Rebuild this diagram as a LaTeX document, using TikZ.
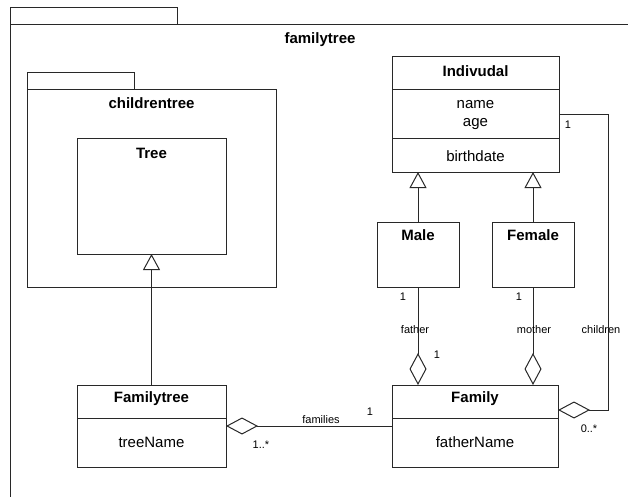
\documentclass[tikz,border=0pt]{standalone}
\usepackage{fontspec}
\setmainfont{Liberation Sans}
\usetikzlibrary{arrows.meta}
\definecolor{linec}{RGB}{40,40,40}
\tikzset{
  box/.style={draw=linec, line width=1pt, inner sep=0pt, outer sep=0pt},
  title/.style={font=\bfseries\fontsize{15}{18}\selectfont, inner sep=0pt},
  attr/.style={font=\fontsize{15}{18}\selectfont, inner sep=0pt},
  lbl/.style={font=\fontsize{11}{13}\selectfont, inner sep=0pt},
  wire/.style={draw=linec, line width=1pt},
  gen/.style={wire, -{Triangle[open,length=16pt,width=17pt]}},
  agg/.style={wire, -{Diamond[open,length=32pt,width=17pt]}},
}
\begin{document}
\begin{tikzpicture}[x=1pt, y=-1pt]
\useasboundingbox (0,0) rectangle (628,497);

% outer package familytree
\node[box, minimum width=167pt, minimum height=17pt] (ftab) at (93.5,16.5) {};
\coordinate (fcorner) at (10,25);
\draw[wire] (628,25) -- (fcorner) -- (10,497);
\node[title] (ftitle) at (320,40) {familytree};

% package childrentree
\node[box, minimum width=107pt, minimum height=17pt] (ctab) at (80.5,81.5) {};
\node[box, minimum width=249pt, minimum height=197pt] (ctree) at (151.5,188.5) {};
\node[title] (ctitle) at (151.5,103) {childrentree};

% class Tree
\node[box, minimum width=149pt, minimum height=115pt] (tree) at (151.5,196.5) {};
\node[title] (treet) at (151.5,153) {Tree};

% class Indivudal
\node[box, minimum width=167pt, minimum height=115pt] (indiv) at (475.5,114.5) {};
\draw[wire] (392,90) -- (559,90);
\draw[wire] (392,139) -- (559,139);
\node[title] (indivt) at (475.5,71) {Indivudal};
\node[attr] (indname) at (475.5,105) {name};
\node[attr] (indage) at (475.5,124) {age};
\node[attr] (indbirth) at (475.5,156) {birthdate};

% classes Male and Female
\node[box, minimum width=82pt, minimum height=65pt] (male) at (418,254.5) {};
\node[title] (malet) at (418,235) {Male};
\node[box, minimum width=82pt, minimum height=65pt] (female) at (533,254.5) {};
\node[title] (femalet) at (533,235) {Female};

% class Familytree
\node[box, minimum width=149pt, minimum height=82pt] (ftree) at (151.5,426) {};
\draw[wire] (77,418) -- (226,418);
\node[title] (ftreet) at (151.5,399) {Familytree};
\node[attr] (ftreen) at (151.5,442) {treeName};

% class Family
\node[box, minimum width=166pt, minimum height=82pt] (family) at (475,426) {};
\draw[wire] (392,418) -- (558,418);
\node[title] (familyt) at (475,399) {Family};
\node[attr] (familyn) at (475,442) {fatherName};

% generalizations
\draw[gen] (ftree.north) -- (tree.south);
\draw[gen] (male.north) -- (male.north |- indiv.south);
\draw[gen] (female.north) -- (female.north |- indiv.south);

% aggregations
\draw[agg] (male.south) -- (male.south |- family.north);
\draw[agg] (female.south) -- (female.south |- family.north);
\draw[agg] (family.west) -- (ftree.east);
\coordinate (chend) at ([yshift=16pt]family.east);
\coordinate (chx) at (608,0);
\draw[agg] (indiv.east) -| (chx |- chend) -- (chend);

% association labels
\node[lbl] (mult1) at (403,297) {1};
\node[lbl] (fatherl) at (415,330) {father};
\node[lbl] (mult2) at (437,355) {1};
\node[lbl] (mult3) at (519,297) {1};
\node[lbl] (motherl) at (534,330) {mother};
\node[lbl] (childl) at (601,330) {children};
\node[lbl] (mult4) at (568,125) {1};
\node[lbl] (mult5) at (589,429) {0..*};
\node[lbl] (famsl) at (321,420) {families};
\node[lbl] (mult6) at (370,412) {1};
\node[lbl] (mult7) at (261,445) {1..*};
\end{tikzpicture}
\end{document}
